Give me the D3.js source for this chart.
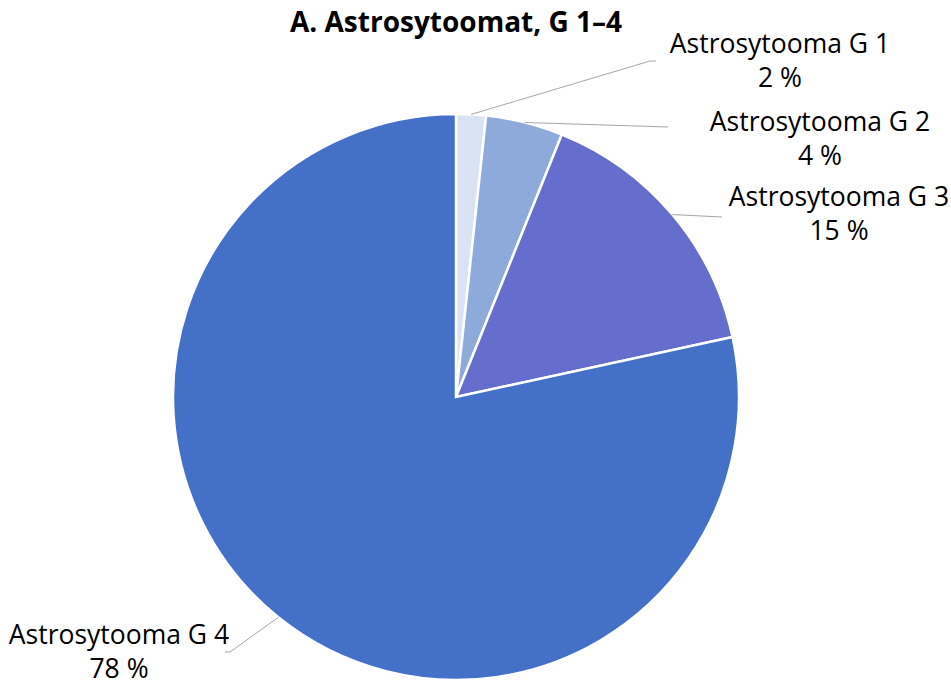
<!DOCTYPE html>
<html>
<head>
<meta charset="utf-8">
<script src="https://cdn.jsdelivr.net/npm/d3@7"></script>
<style>
  body { margin: 0; background: #fff; }
  text { font-family: "Open Sans", "Liberation Sans", sans-serif; fill: #000; }
</style>
</head>
<body>
<script>
// slice data
var categories = ["Astrosytooma G 1", "Astrosytooma G 2", "Astrosytooma G 3", "Astrosytooma G 4"];
var values = [1.7, 4.4, 15.5, 78.4];
var pctLabels = ["2 %", "4 %", "15 %", "78 %"];
var colors = ["#dae3f3", "#8eaadb", "#656ecd", "#4470c8"];

// label layout: [x centre, first baseline, leader elbow x, leader elbow y, leader end x]
var labelLayout = [
  [780, 53, 650, 61, 656],
  [820, 131, 668, 127, 668],
  [839, 206, 722, 217, 722],
  [119, 644, 230, 652, 225]
];

var width = 951, height = 687;
var cx = 456, cy = 397, radius = 283;

var svg = d3.select("body").append("svg").attr("width", width).attr("height", height);

svg.append("text")
  .attr("x", cx).attr("y", 32)
  .attr("text-anchor", "middle")
  .style("font-weight", "bold").style("font-size", "28px")
  .text("A. Astrosytoomat, G 1–4");

var pie = d3.pie().sort(null).value(function(d) { return d; });
var arc = d3.arc().innerRadius(0).outerRadius(radius);
var arcs = pie(values);

var g = svg.append("g").attr("transform", "translate(" + cx + "," + cy + ")");

g.selectAll("path").data(arcs).enter().append("path")
  .attr("d", arc)
  .attr("fill", function(d, i) { return colors[i]; })
  .attr("stroke", "#fff").attr("stroke-width", 2.5);

// leader lines + labels
arcs.forEach(function(d, i) {
  var mid = (d.startAngle + d.endAngle) / 2;
  var sx = cx + Math.sin(mid) * radius, sy = cy - Math.cos(mid) * radius;
  var L = labelLayout[i];
  svg.append("polyline")
    .attr("points", [[sx, sy], [L[2], L[3]], [L[4], L[3]]].map(function(p) { return p.join(","); }).join(" "))
    .attr("fill", "none").attr("stroke", "#a6a6a6").attr("stroke-width", 1);

  var t = svg.append("text").attr("text-anchor", "middle").style("font-size", "26.5px");
  t.append("tspan").attr("x", L[0]).attr("y", L[1]).text(categories[i]);
  t.append("tspan").attr("x", L[0]).attr("y", L[1] + 34).text(pctLabels[i]);
});
</script>
</body>
</html>
